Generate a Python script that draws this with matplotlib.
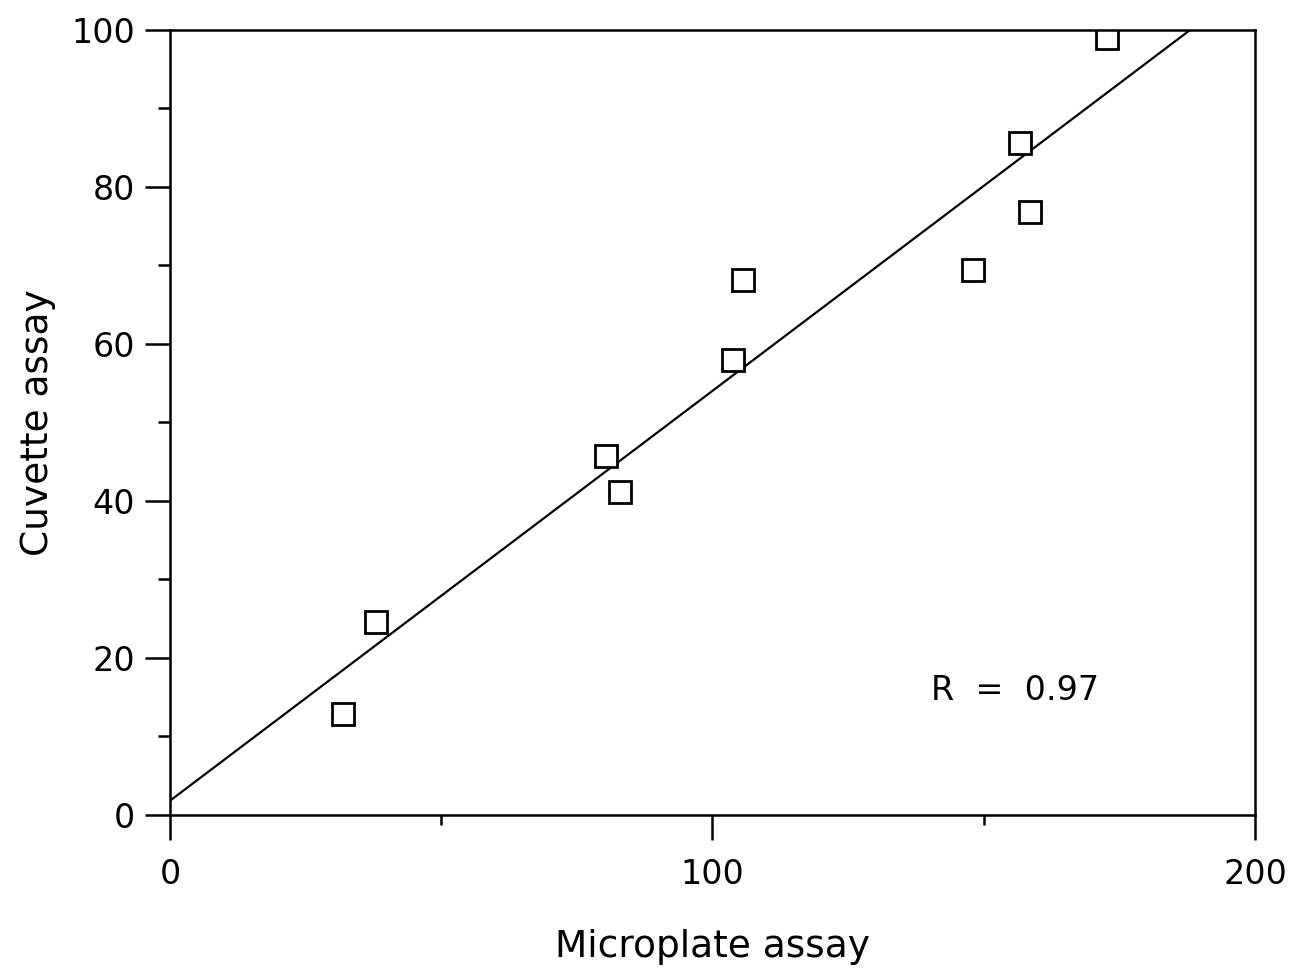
import numpy as np
import matplotlib.pyplot as plt
from matplotlib.ticker import MultipleLocator

# data
microplate = [31.9, 38.0, 80.4, 82.9, 103.8, 105.6, 148.0, 156.7, 158.5, 172.7]
cuvette = [12.9, 24.6, 45.7, 41.1, 58.0, 68.2, 69.4, 85.6, 76.8, 99.0]
r_value = 0.97

fig = plt.figure(figsize=(12.89, 9.73), dpi=100)
ax = fig.add_axes([0.1319, 0.1624, 0.8417, 0.8068])

# regression line
slope, intercept = np.polyfit(microplate, cuvette, 1)
xs = np.array([0, 200])
ax.plot(xs, intercept + slope * xs, color='black', lw=1.6)

ax.plot(microplate, cuvette, linestyle='none', marker='s', markersize=16,
        markerfacecolor='white', markeredgecolor='black', markeredgewidth=2.0)

ax.set_xlim(0, 200)
ax.set_ylim(0, 100)
ax.xaxis.set_major_locator(MultipleLocator(100))
ax.xaxis.set_minor_locator(MultipleLocator(50))
ax.yaxis.set_major_locator(MultipleLocator(20))
ax.yaxis.set_minor_locator(MultipleLocator(10))

ax.tick_params(axis='x', which='major', direction='out', length=18, width=1.8, pad=13, labelsize=24)
ax.tick_params(axis='x', which='minor', direction='out', length=7, width=1.8)
ax.tick_params(axis='y', which='major', direction='out', length=18, width=1.8, pad=7, labelsize=24)
ax.tick_params(axis='y', which='minor', direction='out', length=9, width=1.8)
for s in ax.spines.values():
    s.set_linewidth(1.8)

ax.text(155.8, 15.9, 'R  =  %.2f' % r_value, fontsize=24, ha='center', va='center')

ax.set_xlabel('Microplate assay', fontsize=27, labelpad=27)
ax.set_ylabel('Cuvette assay', fontsize=27, labelpad=11)

fig.savefig('out.png', dpi=100)
